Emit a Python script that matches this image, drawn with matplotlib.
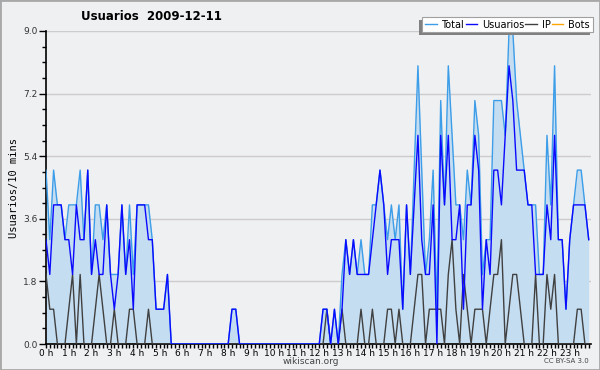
import matplotlib
matplotlib.use('Agg')
import matplotlib.pyplot as plt
from matplotlib.patches import Rectangle
from matplotlib.ticker import MultipleLocator, FormatStrFormatter
import numpy as np

# 10 minute slots, 2009-12-11
hours = [f'{h} h' for h in range(24)]

usuarios = [3, 2, 4, 4, 4, 3, 3, 2, 4, 3,
            3, 5, 2, 3, 2, 2, 4, 2, 1, 2,
            4, 2, 3, 1, 4, 4, 4, 3, 3, 1,
            1, 1, 2, 0, 0, 0, 0, 0, 0, 0,
            0, 0, 0, 0, 0, 0, 0, 0, 0, 1,
            1, 0, 0, 0, 0, 0, 0, 0, 0, 0,
            0, 0, 0, 0, 0, 0, 0, 0, 0, 0,
            0, 0, 0, 1, 1, 0, 1, 0, 1, 3,
            2, 3, 2, 2, 2, 2, 3, 4, 5, 4,
            2, 3, 3, 3, 1, 4, 2, 4, 6, 3,
            2, 2, 4, 0, 6, 4, 6, 3, 3, 4,
            1, 4, 4, 6, 5, 1, 3, 2, 5, 5,
            4, 6, 8, 7, 5, 5, 5, 4, 4, 2,
            2, 2, 4, 3, 6, 3, 3, 1, 3, 4,
            4, 4, 4, 3]

ip = [2, 1, 1, 0, 0, 0, 1, 2, 0, 2,
      0, 0, 0, 1, 2, 1, 0, 0, 1, 0,
      0, 0, 1, 1, 0, 0, 0, 1, 0, 0,
      0, 0, 0, 0, 0, 0, 0, 0, 0, 0,
      0, 0, 0, 0, 0, 0, 0, 0, 0, 0,
      0, 0, 0, 0, 0, 0, 0, 0, 0, 0,
      0, 0, 0, 0, 0, 0, 0, 0, 0, 0,
      0, 0, 0, 0, 1, 0, 0, 0, 1, 0,
      0, 0, 0, 1, 0, 0, 1, 0, 0, 0,
      1, 1, 0, 1, 0, 0, 0, 1, 2, 2,
      0, 1, 1, 1, 1, 0, 2, 3, 1, 0,
      2, 1, 0, 1, 1, 1, 0, 1, 2, 2,
      3, 0, 1, 2, 2, 1, 0, 0, 0, 2,
      0, 0, 2, 1, 2, 0, 0, 0, 0, 0,
      1, 1, 0, 0]

total = [5, 3, 5, 4, 4, 3, 4, 4, 4, 5,
         3, 5, 2, 4, 4, 3, 4, 2, 2, 2,
         4, 2, 4, 2, 4, 4, 4, 4, 3, 1,
         1, 1, 2, 0, 0, 0, 0, 0, 0, 0,
         0, 0, 0, 0, 0, 0, 0, 0, 0, 1,
         1, 0, 0, 0, 0, 0, 0, 0, 0, 0,
         0, 0, 0, 0, 0, 0, 0, 0, 0, 0,
         0, 0, 0, 1, 1, 0, 1, 0, 2, 3,
         2, 3, 2, 3, 2, 2, 4, 4, 5, 4,
         3, 4, 3, 4, 1, 4, 2, 5, 8, 5,
         2, 3, 5, 1, 7, 4, 8, 6, 4, 4,
         3, 5, 4, 7, 6, 2, 3, 3, 7, 7,
         7, 6, 9, 9, 7, 6, 5, 4, 4, 4,
         2, 2, 6, 4, 8, 3, 3, 1, 3, 4,
         5, 5, 4, 3]

bots = [0] * 144

x = np.arange(len(total))
bg = '#eff0f2'
W, H = 600, 370

fig = plt.figure(figsize=(6.0, 3.7), dpi=100, facecolor=bg)
ax = fig.add_axes([46 / W, 26 / H, 545 / W, 313 / H])
ax.set_facecolor(bg)

ax.fill_between(x, total, 0, color='#c5ddf1', lw=0)
ax.plot(x, bots, color='#ffa500', lw=1, label='Bots', zorder=2)
ax.plot(x, ip, color='#404040', lw=1, label='IP', zorder=3)
ax.plot(x, total, color='#3c9de8', lw=1, label='Total', zorder=3)
ax.plot(x, usuarios, color='#0a0aff', lw=1, label='Usuarios', zorder=4)

ax.set_xlim(0, 143.6)
ax.set_ylim(0, 9)
ax.yaxis.set_major_locator(MultipleLocator(1.8))
ax.yaxis.set_minor_locator(MultipleLocator(0.45))
ax.yaxis.set_major_formatter(FormatStrFormatter('%.1f'))
ax.set_xticks(np.arange(0, 144, 6))
ax.set_xticklabels(hours)
ax.xaxis.set_minor_locator(MultipleLocator(1))
ax.grid(axis='y', color='#cccccc', lw=1)
ax.set_axisbelow(True)

for side in ('top', 'right'):
    ax.spines[side].set_visible(False)
ax.spines['left'].set_linewidth(1.2)
ax.spines['bottom'].set_linewidth(1.2)
ax.tick_params(axis='y', which='major', labelsize=6.5, length=5, width=1, pad=1, labelcolor='#333333')
ax.tick_params(axis='y', which='minor', length=3, width=1)
ax.tick_params(axis='x', which='major', labelsize=6.5, length=3, width=1, pad=0.5)
ax.tick_params(axis='x', which='minor', length=3, width=1)

ax.set_ylabel('Usuarios/10 mins', family='DejaVu Sans Mono', fontsize=7.5, labelpad=3)
fig.text(0.252, 0.955, 'Usuarios  2009-12-11', ha='center', va='center', fontsize=8.5, fontweight='bold')
fig.text(0.518, 0.024, 'wikiscan.org', ha='center', va='center', fontsize=6.5, color='#444444')
fig.text(0.982, 0.024, 'CC BY-SA 3.0', ha='right', va='center', fontsize=5, color='#444444')

# legend box: white frame with a grey shadow down-left, entries on one row
bx, by, bw, bh = 422, 17.5, 171, 14.5
fig.patches.append(Rectangle(((bx - 3) / W, 1 - (by + bh + 3) / H), bw / W, bh / H,
                             transform=fig.transFigure, facecolor='#808080', lw=0, zorder=8))
fig.patches.append(Rectangle((bx / W, 1 - (by + bh) / H), bw / W, bh / H,
                             transform=fig.transFigure, facecolor='white', edgecolor='#a0a0a0',
                             lw=0.8, zorder=9))
h, l = ax.get_legend_handles_labels()
order = [l.index(n) for n in ('Total', 'Usuarios', 'IP', 'Bots')]
leg = fig.legend([h[i] for i in order], [l[i] for i in order], ncol=4, loc='center',
                 bbox_to_anchor=((bx + bw / 2) / W, 1 - (by + bh / 2) / H), fontsize=7,
                 frameon=False, handlelength=1.15, handletextpad=0.5, columnspacing=0.15,
                 borderpad=0, borderaxespad=0)
leg.set_zorder(10)

fig.patches.append(Rectangle((0, 0), 1, 1, transform=fig.transFigure, fill=False,
                             edgecolor='#a8a8a8', lw=2))

fig.savefig('out.png', dpi=100, facecolor=bg)
